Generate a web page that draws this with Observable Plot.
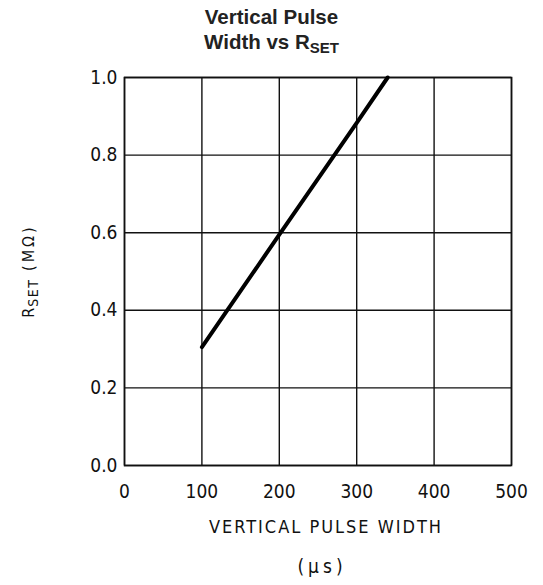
<!DOCTYPE html>
<html>
<head>
<meta charset="utf-8">
<script src="https://cdn.jsdelivr.net/npm/d3@7"></script>
<script src="https://cdn.jsdelivr.net/npm/@observablehq/plot@0.6"></script>
<style>
  body { margin: 0; background: #fff; width: 543px; }
  #title { font-family: "Liberation Sans", Arial, sans-serif; font-weight: bold; font-size: 20.5px; text-align: center; line-height: 25px; height: 55px; padding-top: 4px; padding-left: 0; box-sizing: border-box; color: #222; }
  #title sub { font-size: 15px; vertical-align: -4px; line-height: 0; }
</style>
</head>
<body>
<div id="title">Vertical Pulse<br>Width vs R<sub>SET</sub></div>
<div id="chart"></div>
<script>
const pulseWidth = [100, 200, 300, 340];
const rSet = [0.305, 0.595, 0.883, 1.0];
const xTicks = [0, 100, 200, 300, 400, 500];
const yTicks = [0.0, 0.2, 0.4, 0.6, 0.8, 1.0];

const data = pulseWidth.map((x, i) => ({x, y: rSet[i]}));
const tickFont = '"DejaVu Sans Condensed", "DejaVu Sans", sans-serif';

const plot = Plot.plot({
  width: 543,
  height: 530,
  marginLeft: 124,
  marginRight: 32,
  marginTop: 22,
  marginBottom: 120,
  style: { fontFamily: tickFont, fontSize: "19px", color: "#111", background: "#fff" },
  x: { domain: [0, 500], ticks: xTicks, tickSize: 0, tickPadding: 19, label: null },
  y: { domain: [0, 1], ticks: yTicks, tickSize: 0, tickPadding: 7, tickFormat: d3.format(".1f"), label: null },
  marks: [
    Plot.gridX(xTicks, { stroke: "#111", strokeOpacity: 1, strokeWidth: 1.4 }),
    Plot.gridY(yTicks, { stroke: "#111", strokeOpacity: 1, strokeWidth: 1.4 }),
    Plot.frame({ stroke: "#111", strokeWidth: 1.6 }),
    Plot.line(data, { x: "x", y: "y", stroke: "#000", strokeWidth: 4 })
  ]
});

const svg = d3.select(plot);
// x axis label lines
svg.append("text")
  .attr("x", 326).attr("y", 478)
  .attr("text-anchor", "middle")
  .attr("font-family", tickFont).attr("font-size", 18).attr("letter-spacing", 2).attr("fill", "#111")
  .text("VERTICAL PULSE WIDTH");
svg.append("text")
  .attr("x", 322).attr("y", 518)
  .attr("text-anchor", "middle")
  .attr("font-family", tickFont).attr("font-size", 19).attr("letter-spacing", 4).attr("fill", "#111")
  .text("(μs)");
// y axis label with subscript
const yl = svg.append("text")
  .attr("transform", "translate(34,216) rotate(-90)")
  .attr("text-anchor", "middle")
  .attr("font-family", tickFont).attr("font-size", 16).attr("fill", "#111");
yl.append("tspan").attr("letter-spacing", 1).text("R");
yl.append("tspan").attr("font-size", 14).attr("dy", 4).attr("letter-spacing", 1.5).text("SET");
yl.append("tspan").attr("dy", -4).attr("letter-spacing", 3).text(" (MΩ)");

document.getElementById("chart").appendChild(plot);
</script>
</body>
</html>
